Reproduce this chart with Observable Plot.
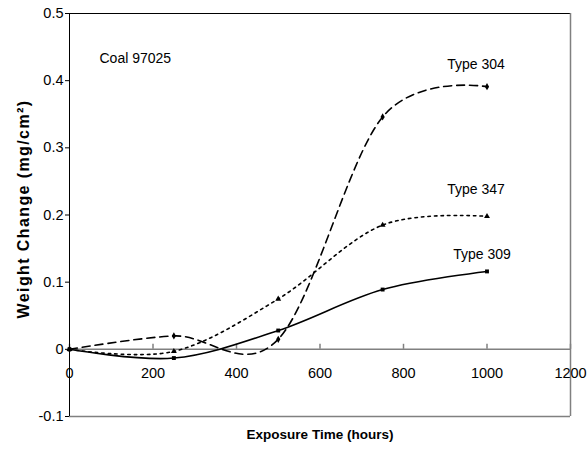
<!DOCTYPE html>
<html>
<head>
<meta charset="utf-8">
<script src="https://cdn.jsdelivr.net/npm/d3@7"></script>
<script src="https://cdn.jsdelivr.net/npm/@observablehq/plot@0.6"></script>
<style>
  html, body { margin: 0; padding: 0; background: #fff; }
  svg { font-family: "Liberation Sans", Arial, sans-serif; }
</style>
</head>
<body>
<div id="chart"></div>
<script>
// Exposure times (hours) and weight change (mg/cm²) for each alloy
const hours = [0, 250, 500, 750, 1000];
const type304 = [0, 0.020, 0.015, 0.346, 0.391];
const type347 = [0, -0.003, 0.075, 0.185, 0.198];
const type309 = [0, -0.013, 0.028, 0.089, 0.116];

const xTicks = [0, 200, 400, 600, 800, 1000, 1200];
const yTicks = [-0.1, 0, 0.1, 0.2, 0.3, 0.4, 0.5];

const series = [
  {name: "Type 304", values: type304, dash: "8,5", symbol: "diamond", dx: -11, dy: -22},
  {name: "Type 347", values: type347, dash: "2.5,4", symbol: "triangle", dx: -11, dy: -27},
  {name: "Type 309", values: type309, dash: null, symbol: "square", dx: -5, dy: -17}
];

const rows = series.flatMap(s => hours.map((h, i) => ({series: s.name, hours: h, value: s.values[i]})));
const lastPoints = series.map(s => ({series: s.name, hours: hours[hours.length - 1], value: s.values[s.values.length - 1]}));

const fmtY = d => d === 0 ? "0" : (d < 0 ? "-" : "") + Math.abs(d).toFixed(1);

const marks = [
  // plot frame: black top/left, grey right/bottom
  Plot.ruleY([0.5], {stroke: "#000", strokeWidth: 1}),
  Plot.ruleY([-0.1], {stroke: "#808080", strokeWidth: 1.5}),
  Plot.ruleX([1200], {stroke: "#808080", strokeWidth: 1.5}),
  // zero line with upward ticks
  Plot.ruleY([0], {stroke: "#808080", strokeWidth: 1.5}),
  Plot.ruleX(xTicks, {x: d => d, y1: 0, y2: 0.0075, stroke: "#808080", strokeWidth: 1.5}),
  Plot.text(xTicks, {x: d => d, y: 0, text: d => String(d), dy: 24, fontSize: 14.5, fill: "#000"}),
  // y axis: ticks from the axis mark, labels and title as text marks
  Plot.axisY({ticks: yTicks, tickSize: 4, tickFormat: () => "", label: null}),
  Plot.text(yTicks, {frameAnchor: "left", y: d => d, text: fmtY, dx: -6, textAnchor: "end", fontSize: 14.5, fill: "#000"}),
  Plot.text(["Weight Change (mg/cm²)"], {frameAnchor: "left", text: d => d, dx: -46, dy: -6, rotate: -90,
    textAnchor: "middle", lineAnchor: "middle", fontSize: 16, fontWeight: "bold", fill: "#000"}),
  Plot.ruleX([0], {stroke: "#000", strokeWidth: 1})
];

for (const s of series) {
  const data = rows.filter(r => r.series === s.name);
  marks.push(Plot.line(data, {x: "hours", y: "value", curve: "cardinal", tension: 0,
    stroke: "#000", strokeWidth: 1.6, strokeDasharray: s.dash}));
  marks.push(Plot.dot(data, {x: "hours", y: "value", symbol: s.symbol, r: 2.2, fill: "#000", stroke: null}));
  marks.push(Plot.text(lastPoints.filter(p => p.series === s.name), {x: "hours", y: "value", text: "series",
    dx: s.dx, dy: s.dy, fontSize: 14, fill: "#000"}));
}

marks.push(Plot.text(["Coal 97025"], {frameAnchor: "top-left", text: d => d, dx: 30, dy: 40, textAnchor: "start", fontSize: 14, fill: "#000"}));
marks.push(Plot.text(["Exposure Time (hours)"], {frameAnchor: "bottom", text: d => d, dy: 22, fontSize: 13.5, fontWeight: "bold", fill: "#000"}));

const chart = Plot.plot({
  width: 588,
  height: 458,
  marginLeft: 69,
  marginRight: 18,
  marginTop: 13,
  marginBottom: 42,
  style: {fontFamily: "'Liberation Sans', Arial, sans-serif", color: "#000", background: "#fff"},
  x: {domain: [0, 1200], axis: null},
  y: {domain: [-0.1, 0.5], axis: null},
  marks
});

// spread the y-axis title along the axis
chart.querySelectorAll("text").forEach(t => {
  if (t.textContent === "Weight Change (mg/cm²)") t.style.letterSpacing = "1.4px";
});

document.getElementById("chart").appendChild(chart);
</script>
</body>
</html>
